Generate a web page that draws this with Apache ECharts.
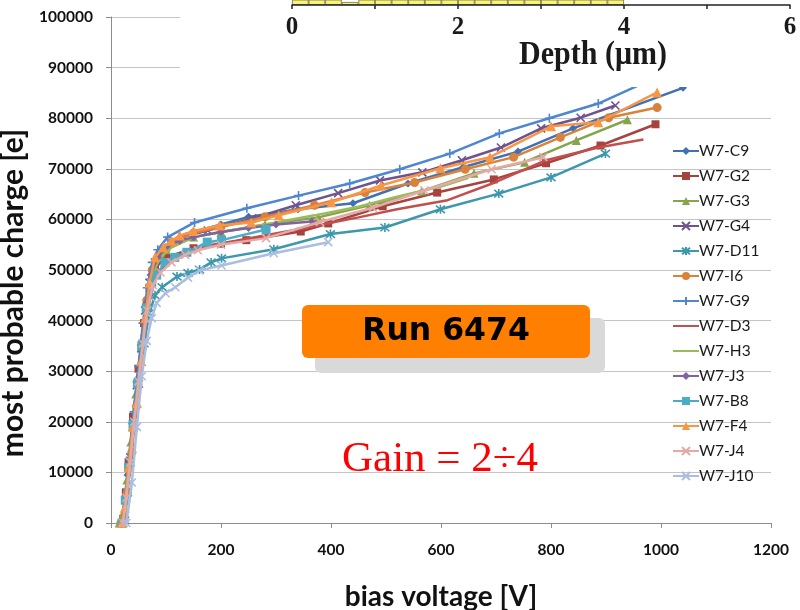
<!DOCTYPE html>
<html>
<head>
<meta charset="utf-8">
<script src="https://cdn.jsdelivr.net/npm/echarts@6/dist/echarts.min.js"></script>
<style>
  html, body { margin: 0; padding: 0; background: #ffffff; }
  #chart { width: 800px; height: 610px; }
</style>
</head>
<body>
<div id="chart"></div>
<script>
// Most probable charge vs. bias voltage, one curve per sensor (Run 6474)
const sensorNames = ['W7-C9', 'W7-G2', 'W7-G3', 'W7-G4', 'W7-D11', 'W7-I6', 'W7-G9',
                     'W7-D3', 'W7-H3', 'W7-J3', 'W7-B8', 'W7-F4', 'W7-J4', 'W7-J10'];

const c9Volt   = [20, 25, 30, 40, 50, 60, 70, 80, 100, 150, 200, 250, 340, 440, 540, 640, 740, 840, 1040];
const c9Charge = [500, 5000, 9500, 18500, 27500, 37000, 45000, 50500, 54500, 57500, 59000, 60500, 62000, 63200, 67100, 70300, 73400, 78000, 86000];

const g2Volt   = [22, 27, 32, 40, 50, 60, 70, 80, 100, 150, 200, 246, 345, 395, 494, 593, 696, 791, 890, 990];
const g2Charge = [800, 6000, 12000, 21000, 30500, 39500, 46500, 50500, 52500, 54300, 55200, 55900, 57600, 59200, 62600, 65300, 67900, 71100, 74600, 78800];

const g3Volt   = [15, 22, 29, 36, 45, 55, 65, 75, 100, 150, 200, 280, 377, 470, 565, 660, 752, 846, 939];
const g3Charge = [0, 2000, 8500, 16000, 25500, 35000, 44000, 50000, 54000, 56500, 57500, 59000, 60400, 62800, 65600, 69100, 71300, 75600, 79700];

const g4Volt   = [22, 28, 35, 42, 47, 55, 62, 70, 80, 100, 130, 176, 257, 336, 413, 489, 566, 638, 709, 782, 854, 917];
const g4Charge = [0, 6000, 13000, 21000, 27200, 34500, 42000, 47500, 51500, 54500, 56500, 57800, 60200, 62800, 65200, 67700, 69300, 71700, 74200, 78000, 80100, 82500];

const d11Volt   = [25, 30, 35, 40, 50, 60, 70, 80, 93, 120, 140, 161, 182, 201, 296, 399, 498, 599, 705, 800, 899];
const d11Charge = [500, 6000, 12000, 19000, 27500, 35500, 41500, 45000, 46600, 48700, 49400, 50100, 51500, 52300, 54100, 57100, 58400, 62000, 65100, 68300, 73000];

const i6Volt   = [18, 24, 30, 38, 46, 56, 65, 75, 90, 110, 150, 200, 280, 370, 462, 552, 644, 732, 817, 905, 993];
const i6Charge = [0, 1000, 6000, 14000, 23000, 34700, 44000, 50000, 53000, 55500, 57300, 58500, 60500, 62800, 65300, 67300, 69900, 72300, 76200, 80100, 82100];

const g9Volt   = [22, 28, 35, 42, 50, 58, 66, 75, 85, 103, 152, 247, 341, 434, 525, 616, 706, 797, 886, 1000];
const g9Charge = [0, 5000, 13000, 22000, 31000, 39500, 46500, 51500, 54000, 56500, 59400, 62200, 64700, 67100, 69900, 73000, 77000, 80000, 82900, 88500];

const d3Volt   = [22, 28, 35, 42, 50, 60, 70, 89, 120, 160, 227, 329, 450, 520, 612, 698, 791, 886, 968];
const d3Charge = [0, 5500, 13000, 20500, 29000, 38000, 45500, 50000, 52500, 54500, 55800, 57800, 60400, 62000, 63800, 67300, 71700, 74200, 75800];

const h3Volt   = [20, 26, 32, 40, 48, 56, 64, 74, 90, 110, 150, 200, 280, 370, 450, 520, 600, 650];
const h3Charge = [0, 3500, 10000, 19000, 27500, 35500, 43000, 49000, 52500, 54500, 56500, 57500, 59000, 60800, 62500, 64500, 66500, 68200];

const j3Volt   = [20, 26, 32, 40, 48, 56, 64, 72, 85, 100, 125, 150, 200, 250, 300, 365];
const j3Charge = [0, 4000, 11000, 20000, 28500, 36000, 43500, 49000, 52500, 54500, 55800, 56500, 57500, 58300, 59000, 59600];

const b8Volt   = [20, 26, 32, 40, 48, 56, 64, 74, 83, 98, 116, 138, 175, 201, 282];
const b8Charge = [0, 4500, 11000, 19500, 27500, 35000, 42500, 47500, 49000, 51500, 52500, 53500, 55500, 55900, 58000];

const f4Volt   = [20, 25, 32, 40, 47, 55, 62, 70, 80, 95, 110, 125, 150, 197, 255, 305, 401, 491, 599, 689, 800, 886, 993];
const f4Charge = [0, 3000, 11000, 19000, 23700, 32000, 40500, 47500, 52500, 54500, 55800, 56800, 57700, 58800, 59400, 60800, 63400, 66700, 70100, 72300, 78400, 79200, 85100];

const j4Volt   = [22, 28, 35, 42, 50, 58, 66, 76, 90, 110, 135, 158, 200, 282, 380, 476, 570, 692, 786];
const j4Charge = [0, 5000, 12000, 20000, 28000, 35500, 42000, 47000, 49500, 51500, 53000, 53900, 55000, 56300, 59500, 62300, 65700, 69900, 72300];

const j10Volt   = [28, 38, 47, 56, 65, 74, 83, 99, 117, 140, 161, 201, 296, 395];
const j10Charge = [0, 8000, 19000, 29000, 36000, 40500, 43500, 45400, 46600, 48500, 49900, 50900, 53300, 55500];

// Axis ticks
const voltTicks = [0, 200, 400, 600, 800, 1000, 1200];
const chargeTicks = [0, 10000, 20000, 30000, 40000, 50000, 60000, 70000, 80000, 90000, 100000];

// Depth profile strip (inset): bin centres [µm] and relative heights
const depthBins    = [0.1, 0.3, 0.5, 0.7, 0.9, 1.1, 1.3, 1.5, 1.7, 1.9, 2.1, 2.3, 2.5, 2.7, 2.9, 3.1, 3.3, 3.5, 3.7, 3.9];
const depthHeights = [3, 3, 3, 0.6, 3, 3, 3, 3, 3, 3, 3, 3, 3, 3, 3, 3, 3, 3, 3, 3];
const depthTicks   = [0, 2, 4, 6];

const volts   = [c9Volt, g2Volt, g3Volt, g4Volt, d11Volt, i6Volt, g9Volt, d3Volt, h3Volt, j3Volt, b8Volt, f4Volt, j4Volt, j10Volt];
const charges = [c9Charge, g2Charge, g3Charge, g4Charge, d11Charge, i6Charge, g9Charge, d3Charge, h3Charge, j3Charge, b8Charge, f4Charge, j4Charge, j10Charge];

// Marker shapes
const CROSS = 'path://M0,0L10,10M10,0L0,10';
const STAR  = 'path://M0,0L10,10M10,0L0,10M5,-1L5,11';
const PLUS  = 'path://M5,0L5,10M0,5L10,5';

const styles = [
  { color: '#4170B5', symbol: 'diamond',  size: 8 },
  { color: '#A8423F', symbol: 'rect',     size: 8 },
  { color: '#86A44A', symbol: 'triangle', size: 9 },
  { color: '#6E548F', symbol: CROSS,      size: 8, stroke: true },
  { color: '#3D97AD', symbol: STAR,       size: 9, stroke: true },
  { color: '#D9823B', symbol: 'circle',   size: 9 },
  { color: '#4E86D0', symbol: PLUS,       size: 9, stroke: true },
  { color: '#C0504D', symbol: 'none',     size: 0 },
  { color: '#9BBB59', symbol: 'none',     size: 0 },
  { color: '#8064A2', symbol: 'diamond',  size: 8 },
  { color: '#4BACC6', symbol: 'rect',     size: 9 },
  { color: '#F79646', symbol: 'triangle', size: 10 },
  { color: '#E3AAA8', symbol: CROSS,      size: 8, stroke: true },
  { color: '#A9BEE0', symbol: CROSS,      size: 8, stroke: true }
];

const labelFont = 'Lato, "Open Sans", sans-serif';
const serifFont = '"Liberation Serif", "DejaVu Serif", serif';

const lineSeries = sensorNames.map((name, i) => {
  const st = styles[i];
  return {
    name: name,
    type: 'line',
    xAxisIndex: 0,
    yAxisIndex: 0,
    data: volts[i].map((v, k) => [v, charges[i][k]]),
    symbol: st.symbol,
    symbolSize: st.size,
    showSymbol: st.symbol !== 'none',
    lineStyle: { color: st.color, width: 2.5 },
    itemStyle: st.stroke
      ? { color: 'rgba(0,0,0,0)', borderColor: st.color, borderWidth: 1.6 }
      : { color: st.color, borderColor: st.color, borderWidth: 0 },
    emphasis: { disabled: true },
    animation: false,
    z: 2 + i * 0.01
  };
});

// Legend entries: line-only series get no marker in their key
const legendData = sensorNames.map((name, i) =>
  styles[i].symbol === 'none' ? { name: name, itemStyle: { opacity: 0 } } : { name: name });

const chart = echarts.init(document.getElementById('chart'), null, { renderer: 'canvas' });

chart.setOption({
  backgroundColor: '#ffffff',
  animation: false,
  textStyle: { fontFamily: labelFont },
  grid: [
    { left: 111, right: 29, top: 17, bottom: 87, containLabel: false, outerBoundsMode: 'none' },
    { left: 292, width: 498, top: 0, height: 5, containLabel: false, outerBoundsMode: 'none' }
  ],
  legend: {
    orient: 'vertical',
    left: 667,
    top: 138,
    itemWidth: 26,
    itemHeight: 10,
    itemGap: 9,
    data: legendData,
    textStyle: { fontFamily: labelFont, fontSize: 15.5, color: '#1a1a1a', lineHeight: 16, padding: [0, 0, 0, -5] },
    selectedMode: false,
    z: 4
  },
  xAxis: [
    {
      type: 'value',
      gridIndex: 0,
      min: voltTicks[0],
      max: voltTicks[voltTicks.length - 1],
      interval: voltTicks[1] - voltTicks[0],
      name: 'bias voltage [V]',
      nameLocation: 'middle',
      nameGap: 60,
      nameTextStyle: { fontFamily: labelFont, fontWeight: 'bold', fontSize: 28, color: '#111' },
      axisLine: { lineStyle: { color: '#8C8C8C', width: 1 } },
      axisTick: { show: true, length: 5, lineStyle: { color: '#8C8C8C' } },
      axisLabel: { fontFamily: labelFont, fontWeight: 'bold', fontSize: 15.5, color: '#111', margin: 19,
                   formatter: v => String(v) },
      splitLine: { show: false }
    },
    {
      type: 'value',
      gridIndex: 1,
      min: 0,
      max: 6,
      interval: 1,
      position: 'bottom',
      z: 60,
      axisLine: { lineStyle: { color: '#222', width: 1.5 } },
      axisTick: { show: true, inside: false, length: 4, lineStyle: { color: '#222', width: 1.5 } },
      axisLabel: {
        margin: 10,
        fontFamily: serifFont,
        fontWeight: 'bold',
        fontSize: 25,
        color: '#1a1a1a',
        formatter: v => (depthTicks.indexOf(v) >= 0 ? String(v) : '')
      },
      splitLine: { show: false }
    }
  ],
  yAxis: [
    {
      type: 'value',
      gridIndex: 0,
      min: chargeTicks[0],
      max: chargeTicks[chargeTicks.length - 1],
      interval: chargeTicks[1] - chargeTicks[0],
      name: 'most probable charge [e]',
      nameLocation: 'middle',
      nameGap: 65,
      nameRotate: 90,
      nameTextStyle: { fontFamily: labelFont, fontWeight: 'bold', fontSize: 30, color: '#111', padding: [0, 46, 0, 0] },
      axisLine: { show: true, lineStyle: { color: '#8C8C8C', width: 1 } },
      axisTick: { show: true, length: 5, lineStyle: { color: '#8C8C8C' } },
      axisLabel: { fontFamily: labelFont, fontWeight: 'bold', fontSize: 15.5, color: '#111', margin: 18,
                   formatter: v => String(v) },
      splitLine: { show: true, lineStyle: { color: '#C4C4C4', width: 1 } }
    },
    {
      type: 'value',
      gridIndex: 1,
      min: 0,
      max: 1,
      show: false
    }
  ],
  series: lineSeries.concat([
    {
      name: 'depth profile',
      type: 'bar',
      xAxisIndex: 1,
      yAxisIndex: 1,
      data: depthBins.map((d, k) => [d, depthHeights[k]]),
      barWidth: 16.6,
      itemStyle: { color: '#F6F27A', borderColor: '#6f6f4a', borderWidth: 0.8 },
      emphasis: { disabled: true },
      z: 55,
      clip: true
    }
  ]),
  graphic: [
    // inset panel background
    { type: 'rect', left: 180, top: 0, shape: { width: 620, height: 87 }, style: { fill: '#ffffff' }, z: 50, silent: true },
    {
      type: 'text', x: 593, y: 63, z: 60, silent: true, scaleY: 1.12, originX: 593, originY: 63,
      style: { text: 'Depth (\u03bcm)', fill: '#1a1a1a', font: 'bold 30px ' + serifFont, align: 'center', verticalAlign: 'middle' }
    },
    // run label box with drop shadow
    { type: 'rect', left: 315, top: 318, shape: { width: 290, height: 55, r: 6 }, style: { fill: '#D9D9D9' }, z: 40, silent: true },
    { type: 'rect', left: 302, top: 305, shape: { width: 288, height: 53, r: 6 }, style: { fill: '#FF8000' }, z: 41, silent: true },
    {
      type: 'text', x: 446, y: 332, z: 42, silent: true,
      style: { text: 'Run 6474', fill: '#000', font: 'bold 31.5px "DejaVu Sans", sans-serif', align: 'center', verticalAlign: 'middle' }
    },
    {
      type: 'text', x: 440, y: 438, z: 42, silent: true,
      style: { text: 'Gain = 2\u00f74', fill: '#FF0000', font: '43px ' + serifFont, align: 'center', verticalAlign: 'alphabetic' }
    }
  ]
});
</script>
</body>
</html>
